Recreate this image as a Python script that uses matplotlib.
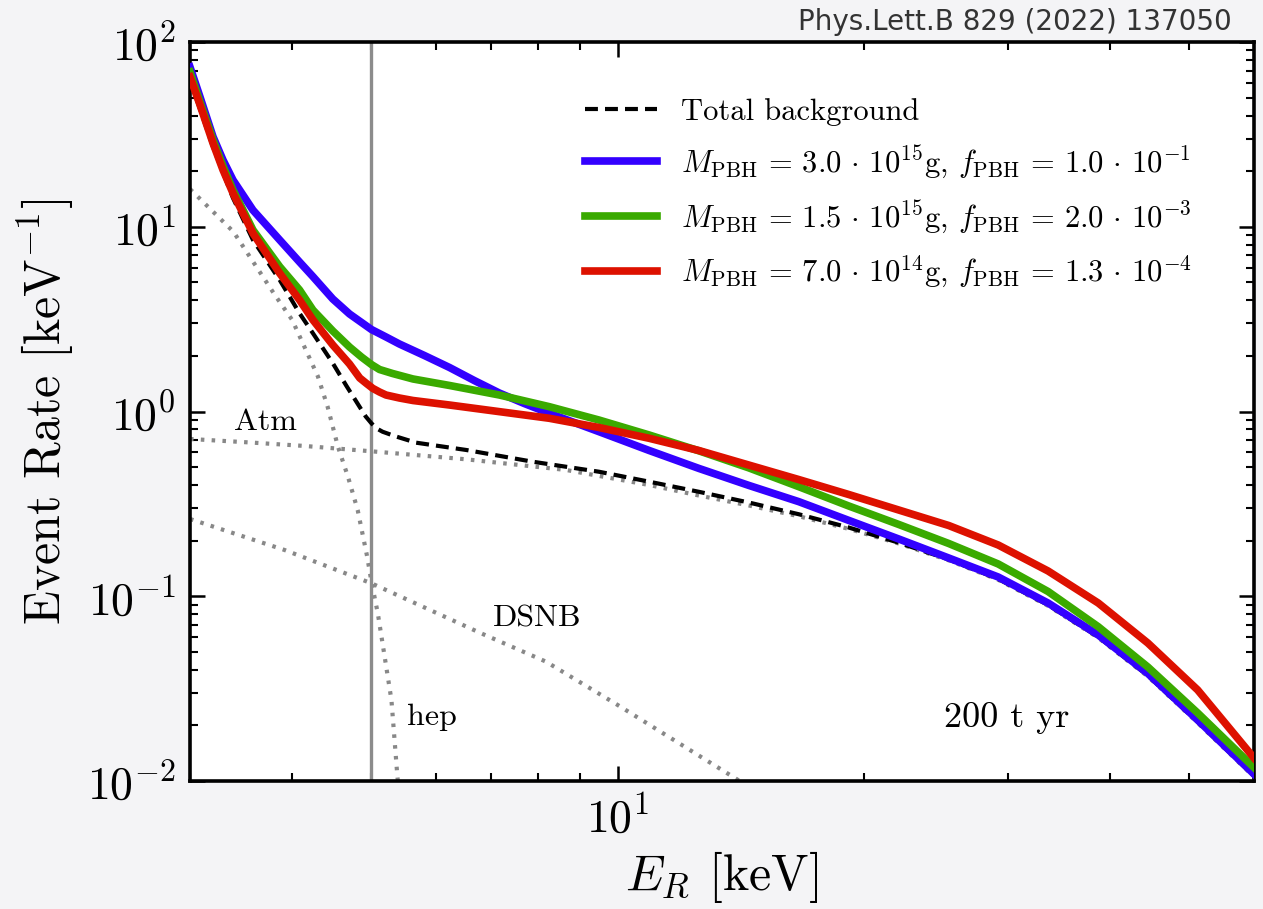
import matplotlib
matplotlib.use("Agg")
import matplotlib.pyplot as plt
from matplotlib.ticker import LogLocator, NullFormatter

plt.rcParams.update({
    "font.family": "serif",
    "font.serif": ["cmr10"],
    "mathtext.fontset": "cm",
    "axes.formatter.use_mathtext": True,
    "axes.unicode_minus": False,
})

# Recoil energy E_R [keV] and event rate [keV^-1] of each curve
E_blue = [3.0, 3.083, 3.201, 3.292, 3.386, 3.582, 3.862, 4.084, 4.241, 4.485, 4.701, 5.0, 5.21,
          5.41, 5.803, 6.23, 6.68, 7.17, 7.688, 8.25, 8.849, 9.49, 10.93, 12.57, 14.47, 16.66,
          19.17, 22.07, 25.40, 29.2, 33.6, 38.7, 44.5, 51.2, 60.0]
R_blue = [73.2, 51.0, 30.7, 22.98, 17.9, 12.3, 8.48, 6.445, 5.37, 4.063, 3.372, 2.779, 2.531,
          2.319, 2.010, 1.730, 1.471, 1.258, 1.105, 0.978, 0.872, 0.7775, 0.615, 0.492, 0.398,
          0.3249, 0.2574, 0.2041, 0.1611, 0.1271, 0.0919, 0.0617, 0.0382, 0.0214, 0.0109]

E_green = [3.0, 3.083, 3.201, 3.292, 3.386, 3.582, 3.862, 4.084, 4.241, 4.485, 4.701, 4.862,
           5.0, 5.115, 5.306, 5.62, 6.23, 7.17, 8.25, 9.49, 10.93, 12.57, 14.47, 16.66, 19.17,
           22.07, 25.40, 29.2, 33.6, 38.7, 44.5, 51.2, 60.0]
R_green = [68.8, 47.9, 29.5, 21.3, 15.8, 9.60, 6.08, 4.547, 3.54, 2.728, 2.234, 1.972,
           1.796, 1.688, 1.606, 1.500, 1.383, 1.228, 1.062, 0.899, 0.746, 0.6127, 0.4952,
           0.3915, 0.3080, 0.2446, 0.1930, 0.1495, 0.1061, 0.0684, 0.0414, 0.02334, 0.01183]

E_red = [3.0, 3.083, 3.201, 3.292, 3.386, 3.582, 3.862, 4.084, 4.241, 4.485, 4.701, 4.838,
         4.928, 5.018, 5.115, 5.21, 5.41, 5.62, 6.23, 7.17, 8.25, 9.49, 10.93, 12.57, 14.47,
         16.66, 19.17, 22.07, 25.40, 29.2, 33.6, 38.7, 44.5, 51.2, 60.0]
R_red = [64.7, 46.2, 28.3, 20.3, 15.2, 9.21, 5.60, 4.013, 3.13, 2.291, 1.807, 1.518,
         1.421, 1.335, 1.275, 1.228, 1.183, 1.147, 1.084, 0.998, 0.919, 0.819, 0.716, 0.615,
         0.513, 0.428, 0.3554, 0.2929, 0.2415, 0.1894, 0.1370, 0.0919, 0.0558, 0.0311, 0.01332]

E_bkg = [3.0, 3.201, 3.386, 3.582, 3.862, 4.084, 4.241, 4.485, 4.657, 4.835, 4.92, 5.0, 5.07,
         5.16, 5.334, 5.67, 6.53, 7.87, 9.49, 10.93, 12.57, 14.47, 16.66, 19.17, 22.07, 25.40,
         29.2, 33.6, 38.7, 44.5, 51.2, 60.0]
R_bkg = [62.3, 27.0, 14.3, 8.48, 5.15, 3.40, 2.65, 1.824, 1.383, 1.062, 0.940, 0.863, 0.811,
         0.777, 0.737, 0.678, 0.619, 0.535, 0.472, 0.417, 0.3676, 0.3216, 0.2778, 0.2355,
         0.1949, 0.1581, 0.1240, 0.0897, 0.0602, 0.0372, 0.02086, 0.01064]

E_atm = [3.0, 3.548, 4.14, 5.0, 6.53, 8.65, 10.93, 12.57, 14.47, 16.66, 19.17, 22.07, 25.40,
         29.2, 33.6, 38.7, 44.5, 51.2, 60.0]
R_atm = [0.710, 0.680, 0.651, 0.609, 0.551, 0.4825, 0.400, 0.351, 0.310, 0.271, 0.2315, 0.193,
         0.1565, 0.1228, 0.0888, 0.0596, 0.0368, 0.02065, 0.01053]

E_hep = [3.0, 3.39, 3.81, 4.0, 4.30, 4.42, 4.55, 4.68, 4.81, 4.94, 5.0, 5.09, 5.19, 5.29, 5.38, 5.40]
R_hep = [16.0, 9.4, 4.27, 3.13, 1.55, 1.06, 0.645, 0.444, 0.293, 0.164, 0.120, 0.081, 0.047,
         0.0274, 0.0105, 0.0090]

E_dsnb = [3.0, 3.915, 5.0, 6.81, 8.17, 10.0, 11.89, 14.0, 14.3]
R_dsnb = [0.262, 0.178, 0.1175, 0.063, 0.0443, 0.0258, 0.016, 0.0102, 0.0095]

E_threshold = 5.0

labels = [
    "Total background",
    r"$M_{\rm PBH}\,=\,3.0\,\cdot\,10^{15}$g, $f_{\rm PBH}\,=\,1.0\,\cdot\,10^{-1}$",
    r"$M_{\rm PBH}\,=\,1.5\,\cdot\,10^{15}$g, $f_{\rm PBH}\,=\,2.0\,\cdot\,10^{-3}$",
    r"$M_{\rm PBH}\,=\,7.0\,\cdot\,10^{14}$g, $f_{\rm PBH}\,=\,1.3\,\cdot\,10^{-4}$",
]

c_blue, c_green, c_red = "#3300ff", "#3aaa00", "#dd1100"
c_dot = "#888888"

fig = plt.figure(figsize=(12.63, 9.09), dpi=100, facecolor="#f4f4f6")
ax = fig.add_axes([190 / 1263, 1 - 781 / 909, 1064 / 1263, 739 / 909])
ax.set_facecolor("white")

dot_kw = dict(color=c_dot, lw=3.0, dashes=(0.85, 1.75), zorder=2)
ax.plot(E_atm, R_atm, **dot_kw)
ax.plot(E_hep, R_hep, **dot_kw)
ax.plot(E_dsnb, R_dsnb, **dot_kw)

ax.axvline(E_threshold, color="#8c8c8c", lw=2.4, zorder=2.5)

ax.plot(E_bkg, R_bkg, color="black", lw=3.0, dashes=(3.1, 1.7), zorder=3, label=labels[0])
ax.plot(E_blue, R_blue, color=c_blue, lw=5.5, zorder=4, label=labels[1])
ax.plot(E_green, R_green, color=c_green, lw=5.5, zorder=5, label=labels[2])
ax.plot(E_red, R_red, color=c_red, lw=5.5, zorder=6, label=labels[3])

ax.set_xscale("log")
ax.set_yscale("log")
ax.set_xlim(3, 60)
ax.set_ylim(1e-2, 1e2)

ax.xaxis.set_major_locator(LogLocator(base=10, numticks=10))
ax.xaxis.set_minor_locator(LogLocator(base=10, subs=range(2, 10), numticks=20))
ax.xaxis.set_minor_formatter(NullFormatter())
ax.yaxis.set_major_locator(LogLocator(base=10, numticks=10))
ax.yaxis.set_minor_locator(LogLocator(base=10, subs=range(2, 10), numticks=20))
ax.yaxis.set_minor_formatter(NullFormatter())

ax.tick_params(which="both", direction="in", top=True, right=True, labelsize=33)
ax.tick_params(which="major", length=10.5, width=1.8, pad=10)
ax.tick_params(which="minor", length=6, width=1.5)
for s in ax.spines.values():
    s.set_linewidth(2.6)

ax.set_xlabel(r"$E_R$ [keV]", fontsize=36, labelpad=6)
ax.set_ylabel(r"Event Rate [keV$^{-1}$]", fontsize=36, labelpad=8)

ax.text(3.40, 0.794, "Atm", fontsize=23, ha="left", va="baseline")
ax.text(5.52, 0.0201, "hep", fontsize=23, ha="left", va="baseline")
ax.text(7.03, 0.0682, "DSNB", fontsize=23, ha="left", va="baseline")
ax.text(25.04, 0.0196, "200 t yr", fontsize=26, ha="left", va="baseline")

ax.legend(loc="upper left", bbox_to_anchor=(0.3456, 0.962), frameon=False, fontsize=22,
          handlelength=2.35, handletextpad=0.8, labelspacing=0.58)

fig.text(0.9755, 0.967, "Phys.Lett.B 829 (2022) 137050", fontsize=20, color="#333333",
         ha="right", va="baseline", family="DejaVu Sans")

fig.savefig("out.png", dpi=100, facecolor=fig.get_facecolor())
